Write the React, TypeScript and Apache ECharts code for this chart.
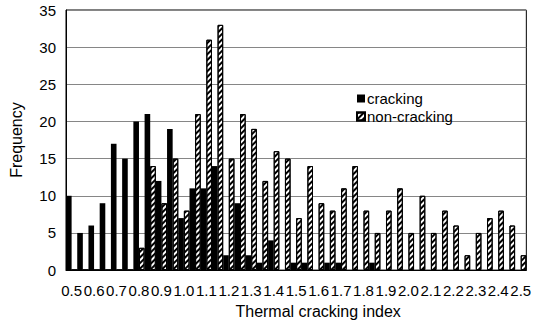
import React, { useEffect, useRef } from "react";
import * as echarts from "echarts";

const categories = [
  "0.50", "0.55", "0.60", "0.65", "0.70", "0.75", "0.80", "0.85", "0.90", "0.95",
  "1.00", "1.05", "1.10", "1.15", "1.20", "1.25", "1.30", "1.35", "1.40", "1.45",
  "1.50", "1.55", "1.60", "1.65", "1.70", "1.75", "1.80", "1.85", "1.90", "1.95",
  "2.00", "2.05", "2.10", "2.15", "2.20", "2.25", "2.30", "2.35", "2.40", "2.45",
  "2.50",
];

const cracking = [
  10, 5, 6, 9, 17, 15, 20, 21, 12, 19,
  7, 11, 11, 14, 2, 9, 2, 1, 4, 0,
  1, 1, 0, 1, 1, 0, 0, 1, 0, 0,
  0, 0, 0, 0, 0, 0, 0, 0, 0, 0,
  0,
];

const nonCracking = [
  0, 0, 0, 0, 0, 0, 3, 14, 9, 15,
  8, 21, 31, 33, 15, 21, 19, 12, 16, 15,
  7, 14, 9, 8, 11, 14, 8, 5, 8, 11,
  5, 10, 5, 8, 6, 2, 5, 7, 8, 6,
  2,
];

const FONT = "'Liberation Sans', Arial, sans-serif";

export default function App() {
  const ref = useRef<HTMLDivElement>(null);
  useEffect(() => {
    if (!ref.current) return;
    const chart = echarts.init(ref.current, null, { renderer: "svg" });
    const hatch = {
      symbol: "rect",
      symbolSize: 1,
      color: "#000",
      backgroundColor: "#fff",
      dashArrayX: [1, 0],
      dashArrayY: [2, 2],
      rotation: -Math.PI / 4,
    };
    chart.setOption({
      animation: false,
      textStyle: { fontFamily: FONT },
      grid: {
        left: 55,
        right: 7,
        top: 10,
        bottom: 48,
        show: true,
        borderColor: "#000",
        borderWidth: 1,
        backgroundColor: "transparent",
      },
      legend: {
        orient: "vertical",
        left: 351,
        top: 86,
        itemWidth: 8,
        itemHeight: 8,
        itemGap: 3,
        textStyle: { fontFamily: FONT, fontSize: 15, color: "#000", padding: [0, 0, 0, -3] },
        data: [
          { name: "cracking", icon: "rect" },
          { name: "non-cracking", icon: "rect" },
        ],
      },
      xAxis: {
        type: "category",
        data: categories,
        name: "Thermal cracking index",
        nameLocation: "middle",
        nameGap: 30,
        nameTextStyle: { fontFamily: FONT, fontSize: 16, color: "#000", padding: [0, 0, 0, 44] },
        axisLine: { show: true, lineStyle: { color: "#000", width: 1 } },
        axisTick: { show: false },
        axisLabel: {
          interval: 1,
          fontFamily: FONT,
          fontSize: 15,
          color: "#000",
          margin: 13,
          formatter: (v: string) => parseFloat(v).toFixed(1),
        },
      },
      yAxis: {
        type: "value",
        min: 0,
        max: 35,
        interval: 5,
        name: "Frequency",
        nameLocation: "middle",
        nameGap: 42,
        nameTextStyle: { fontFamily: FONT, fontSize: 16, color: "#000" },
        axisLine: { show: true, lineStyle: { color: "#000", width: 1 } },
        axisTick: { show: false },
        axisLabel: { fontFamily: FONT, fontSize: 15, color: "#000", margin: 10 },
        splitLine: { show: true, lineStyle: { color: "#868686", width: 1 } },
      },
      series: [
        {
          name: "cracking",
          type: "bar",
          data: cracking,
          barGap: "0%",
          barCategoryGap: "0%",
          itemStyle: { color: "#000" },
        },
        {
          name: "non-cracking",
          type: "bar",
          data: nonCracking,
          barGap: "0%",
          barCategoryGap: "0%",
          itemStyle: { color: "#fff", borderColor: "#000", borderWidth: 1, decal: hatch },
        },
      ],
    });
    return () => chart.dispose();
  }, []);
  return <div ref={ref} style={{ width: 534, height: 324, position: "absolute", left: 0, top: 0 }} />;
}
